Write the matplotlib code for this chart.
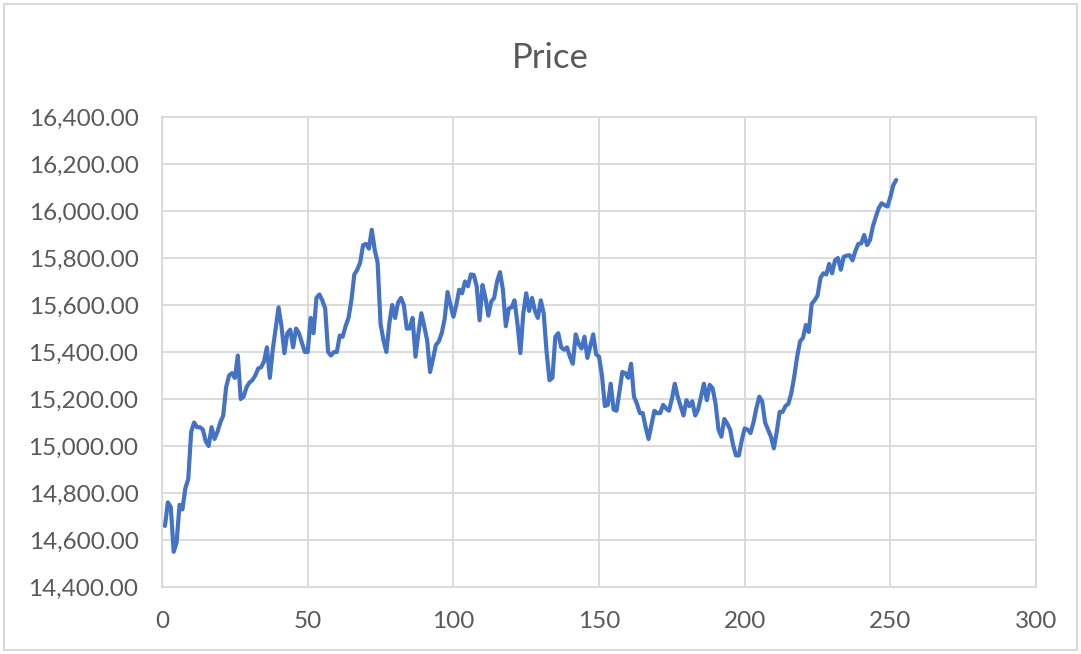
import matplotlib
matplotlib.use("Agg")
import matplotlib.pyplot as plt
from matplotlib.patches import Rectangle
from matplotlib.ticker import FuncFormatter

plt.rcParams["font.family"] = ["Lato", "DejaVu Sans"]

# ราคาปิดรายวัน (ช่วงประมาณ 1 ปี)
days = list(range(1, 253))
price = [
    14660, 14760, 14740, 14550, 14590, 14750, 14730, 14820, 14860, 15060,
    15100, 15080, 15080, 15070, 15020, 15000, 15080, 15030, 15060, 15100,
    15130, 15250, 15300, 15310, 15290, 15385, 15200, 15210, 15250, 15270,
    15280, 15300, 15330, 15335, 15360, 15420, 15290, 15410, 15500, 15590,
    15510, 15395, 15480, 15495, 15420, 15500, 15480, 15440, 15400, 15400,
    15545, 15480, 15630, 15645, 15620, 15585, 15400, 15385, 15400, 15400,
    15470, 15465, 15510, 15545, 15620, 15730, 15750, 15780, 15855, 15860,
    15840, 15920, 15835, 15780, 15520, 15450, 15400, 15520, 15600, 15545,
    15610, 15630, 15600, 15500, 15500, 15545, 15380, 15480, 15565, 15510,
    15450, 15315, 15370, 15430, 15445, 15480, 15540, 15655, 15600, 15550,
    15600, 15665, 15650, 15700, 15680, 15730, 15728, 15680, 15535, 15685,
    15630, 15555, 15615, 15630, 15700, 15740, 15665, 15510, 15585, 15590,
    15620, 15520, 15395, 15565, 15650, 15575, 15630, 15575, 15545, 15620,
    15565, 15400, 15280, 15290, 15465, 15480, 15420, 15410, 15420, 15380,
    15350, 15475, 15435, 15415, 15465, 15375, 15425, 15475, 15390, 15380,
    15300, 15170, 15175, 15265, 15155, 15150, 15230, 15315, 15310, 15290,
    15350, 15210, 15180, 15140, 15140, 15080, 15030, 15090, 15150, 15140,
    15140, 15175, 15160, 15150, 15200, 15265, 15210, 15170, 15130, 15195,
    15170, 15190, 15130, 15155, 15210, 15265, 15195, 15260, 15245, 15180,
    15070, 15040, 15115, 15095, 15070, 15005, 14960, 14960, 15025, 15075,
    15070, 15055, 15100, 15160, 15210, 15190, 15100, 15070, 15040, 14990,
    15060, 15145, 15145, 15170, 15180, 15225, 15295, 15380, 15445, 15460,
    15515, 15485, 15605, 15620, 15640, 15715, 15735, 15730, 15775, 15735,
    15790, 15800, 15750, 15805, 15810, 15812, 15790, 15830, 15860, 15862,
    15898, 15855, 15876, 15935, 15975, 16012, 16033, 16025, 16019, 16060,
    16110, 16132,
]

x_ticks = [0, 50, 100, 150, 200, 250, 300]
y_ticks = list(range(14400, 16401, 200))

grid_c = "#d9d9d9"
text_c = "#595959"

fig = plt.figure(figsize=(10.81, 6.54), dpi=100)
ax = fig.add_axes([0.1499, 0.1024, 0.8085, 0.7187])

ax.plot(days, price, color="#4472C4", linewidth=3.0, solid_joinstyle="round",
        solid_capstyle="round")

ax.set_xlim(0, 300)
ax.set_ylim(14400, 16400)
ax.set_xticks(x_ticks)
ax.set_yticks(y_ticks)
ax.yaxis.set_major_formatter(FuncFormatter(lambda v, p: f"{v:,.2f}"))
ax.grid(True, color=grid_c, linewidth=1.3)
ax.set_axisbelow(True)
for s in ax.spines.values():
    s.set_color(grid_c)
    s.set_linewidth(1.3)
ax.tick_params(axis="both", length=0, labelsize=17.5, colors=text_c)
ax.tick_params(axis="y", pad=17)
ax.tick_params(axis="x", pad=17)

fig.text(0.509, 0.912, "Price", ha="center", va="center", fontsize=25, color=text_c)

# กรอบรอบแผนภูมิ
fig.patches.append(Rectangle((0.004, 0.006), 0.992, 0.988, transform=fig.transFigure,
                             fill=False, edgecolor=grid_c, linewidth=1.5))

fig.savefig("out.png", dpi=100)
